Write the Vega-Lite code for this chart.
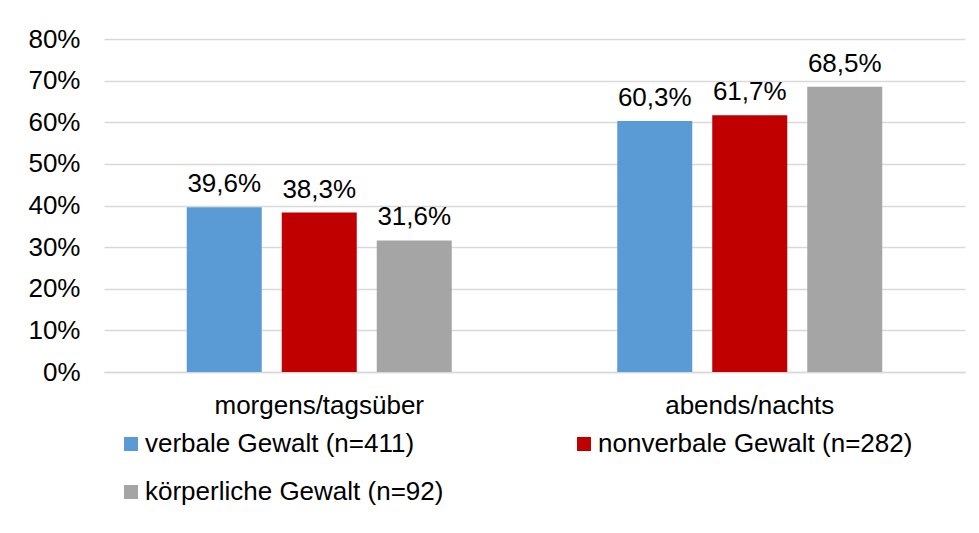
{
  "$schema": "https://vega.github.io/schema/vega-lite/v6.json",
  "width": 861,
  "height": 333,
  "autosize": "none",
  "padding": {"left": 104, "top": 39, "right": 14, "bottom": 161},
  "background": "white",
  "config": {
    "font": "Liberation Sans",
    "view": {"stroke": null},
    "locale": {"number": {"decimal": ",", "thousands": ".", "grouping": [3], "currency": ["", " €"]}}
  },
  "data": {
    "values": [
      {"zeit": "morgens/tagsüber", "art": "verbale Gewalt (n=411)", "wert": 0.396},
      {"zeit": "morgens/tagsüber", "art": "nonverbale Gewalt (n=282)", "wert": 0.383},
      {"zeit": "morgens/tagsüber", "art": "körperliche Gewalt (n=92)", "wert": 0.316},
      {"zeit": "abends/nachts", "art": "verbale Gewalt (n=411)", "wert": 0.603},
      {"zeit": "abends/nachts", "art": "nonverbale Gewalt (n=282)", "wert": 0.617},
      {"zeit": "abends/nachts", "art": "körperliche Gewalt (n=92)", "wert": 0.685}
    ]
  },
  "encoding": {
    "x": {
      "field": "zeit", "type": "nominal",
      "sort": ["morgens/tagsüber", "abends/nachts"],
      "scale": {"paddingInner": 0, "paddingOuter": 0},
      "axis": {"title": null, "labelAngle": 0, "labelFontSize": 26, "labelColor": "#000000", "labelPadding": 20, "labelLimit": 500, "ticks": false, "domainColor": "#d9d9d9", "domainWidth": 1.3, "grid": false}
    },
    "xOffset": {
      "field": "art", "type": "nominal",
      "sort": ["verbale Gewalt (n=411)", "nonverbale Gewalt (n=282)", "körperliche Gewalt (n=92)"],
      "scale": {"paddingInner": 0.2105, "paddingOuter": 0.871}
    },
    "y": {
      "field": "wert", "type": "quantitative",
      "scale": {"domain": [0, 0.8], "nice": false},
      "axis": {"title": null, "format": ".0%", "values": [0, 0.1, 0.2, 0.3, 0.4, 0.5, 0.6, 0.7, 0.8], "labelFontSize": 26, "labelColor": "#000000", "labelPadding": 24, "ticks": false, "domain": false, "gridColor": "#d9d9d9", "gridWidth": 1.3}
    }
  },
  "layer": [
    {
      "mark": {"type": "bar"},
      "encoding": {
        "color": {
          "field": "art", "type": "nominal",
          "sort": ["verbale Gewalt (n=411)", "nonverbale Gewalt (n=282)", "körperliche Gewalt (n=92)"],
          "scale": {"domain": ["verbale Gewalt (n=411)", "nonverbale Gewalt (n=282)", "körperliche Gewalt (n=92)"], "range": ["#5B9BD5", "#C00000", "#A5A5A5"]},
          "legend": {
            "title": null, "orient": "none", "legendX": 14, "legendY": 392, "direction": "horizontal", "columns": 2,
            "symbolType": "square", "symbolSize": 196, "symbolStrokeWidth": 0, "labelFontSize": 26, "labelColor": "#000000",
            "labelOffset": 1, "columnPadding": 127, "rowPadding": 22, "padding": 0, "labelLimit": 500
          }
        }
      }
    },
    {
      "mark": {"type": "text", "baseline": "alphabetic", "dy": -15, "fontSize": 26, "color": "#000000"},
      "encoding": {"text": {"field": "wert", "type": "quantitative", "format": ".1%"}}
    }
  ]
}
